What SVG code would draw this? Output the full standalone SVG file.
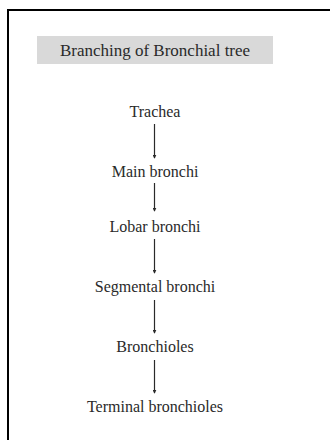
<svg xmlns="http://www.w3.org/2000/svg" width="330" height="440" viewBox="0 0 330 440">
<style>
text{font-family:"Liberation Serif","Times New Roman",serif;fill:#2a2a2a;text-anchor:middle;font-size:16px}
.title{font-size:17px}
.conn line{stroke:#2a2a2a;stroke-width:1.2}
</style>
<defs>
<marker id="ah" viewBox="0 0 6 6" refX="5" refY="3" markerWidth="4" markerHeight="4" orient="auto" markerUnits="userSpaceOnUse">
<path d="M0,0 L6,3 L0,6 z" fill="#2a2a2a"/>
</marker>
</defs>
<rect width="330" height="440" fill="#fff"/>
<path d="M8,440 V10 H330" fill="none" stroke="#000" stroke-width="2"/>
<g id="title">
<rect x="37" y="36" width="236" height="28" fill="#d9d9d9"/>
<text class="title" x="155" y="55.5">Branching of Bronchial tree</text>
</g>
<g id="trachea"><text x="155" y="117">Trachea</text></g>
<g id="main-bronchi"><text x="155" y="177">Main bronchi</text></g>
<g id="lobar-bronchi"><text x="155" y="232">Lobar bronchi</text></g>
<g id="segmental-bronchi"><text x="155" y="292">Segmental bronchi</text></g>
<g id="bronchioles"><text x="155" y="352">Bronchioles</text></g>
<g id="terminal-bronchioles"><text x="155" y="412">Terminal bronchioles</text></g>
<g class="conn" id="connectors">
<line x1="154.5" y1="124" x2="154.5" y2="158" marker-end="url(#ah)"/>
<line x1="154.5" y1="183" x2="154.5" y2="211" marker-end="url(#ah)"/>
<line x1="154.5" y1="239" x2="154.5" y2="273" marker-end="url(#ah)"/>
<line x1="154.5" y1="300" x2="154.5" y2="333" marker-end="url(#ah)"/>
<line x1="154.5" y1="360" x2="154.5" y2="393" marker-end="url(#ah)"/>
</g>
</svg>
